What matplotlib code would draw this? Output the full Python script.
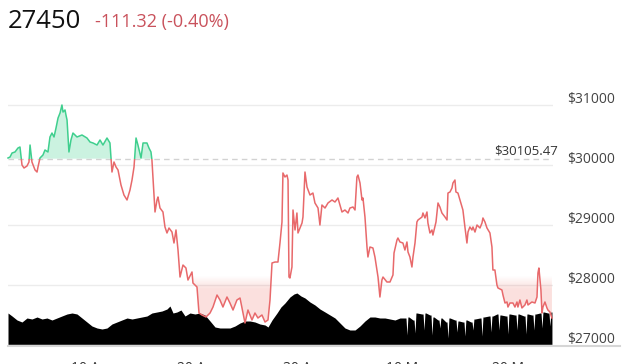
import numpy as np
import pandas as pd
import matplotlib
matplotlib.use("Agg")
import matplotlib.pyplot as plt
import matplotlib.dates as mdates
from matplotlib.transforms import ScaledTranslation
from matplotlib.path import Path
from matplotlib.patches import Rectangle
from matplotlib.lines import Line2D

plt.rcParams['font.family'] = ['Open Sans', 'DejaVu Sans']

# ---------------- data ----------------
start_time = "2023-04-02 02:00"
last_price = "27450"
change_text = "-111.32 (-0.40%)"
base_price = 30105.47

price_days = [
    0.00, 0.19, 0.38, 0.66, 0.94, 1.13, 1.32, 1.51, 1.79, 1.98,
    2.08, 2.26, 2.55, 2.74, 2.83, 3.02, 3.30, 3.49, 3.77, 3.96,
    4.15, 4.34, 4.53, 4.72, 4.91, 5.09, 5.19, 5.38, 5.47, 5.57,
    5.75, 5.94, 6.13, 6.51, 6.98, 7.45, 7.74, 8.02, 8.40, 8.68,
    8.96, 9.34, 9.62, 9.72, 9.81, 10.00, 10.19, 10.38, 10.66, 10.94,
    11.23, 11.51, 11.70, 11.89, 12.08, 12.26, 12.55, 12.74, 13.11, 13.30,
    13.49, 13.58, 13.87, 14.06, 14.15, 14.34, 14.62, 14.81, 15.00, 15.19,
    15.47, 15.66, 15.85, 16.04, 16.23, 16.51, 16.79, 16.98, 17.36, 17.45,
    17.83, 18.02, 18.30, 18.68, 19.06, 19.34, 19.72, 20.00, 20.28, 20.66,
    20.94, 21.23, 21.60, 21.89, 22.17, 22.36, 22.64, 23.02, 23.30, 23.58,
    23.96, 24.25, 24.53, 24.72, 24.91, 25.19, 25.47, 25.66, 25.85, 25.94,
    26.13, 26.32, 26.42, 26.51, 26.60, 26.79, 26.89, 27.08, 27.26, 27.36,
    27.55, 27.74, 27.83, 28.02, 28.21, 28.49, 28.77, 28.96, 29.25, 29.43,
    29.62, 29.91, 30.19, 30.57, 30.85, 31.13, 31.51, 31.79, 32.08, 32.26,
    32.55, 32.74, 32.92, 33.02, 33.21, 33.40, 33.49, 33.68, 33.87, 33.96,
    34.15, 34.43, 34.62, 34.81, 34.91, 35.09, 35.28, 35.38, 35.75, 36.04,
    36.32, 36.42, 36.70, 36.79, 36.98, 37.26, 37.45, 37.64, 37.74, 37.92,
    38.11, 38.21, 38.40, 38.58, 38.68, 39.06, 39.15, 39.34, 39.53, 39.62,
    39.81, 40.00, 40.09, 40.38, 40.57, 40.75, 40.94, 41.23, 41.42, 41.51,
    41.70, 41.89, 41.98, 42.17, 42.26, 42.45, 42.64, 42.92, 43.11, 43.30,
    43.40, 43.58, 43.77, 43.87, 44.06, 44.25, 44.53, 44.72, 44.81, 45.00,
    45.19, 45.47, 45.66, 45.75, 45.94, 46.13, 46.23, 46.60, 46.70, 46.89,
    47.08, 47.17, 47.36, 47.64, 47.83, 48.02, 48.11, 48.30, 48.49, 48.77,
    48.96, 49.06, 49.43, 49.72, 49.91, 50.00, 50.09, 50.28, 50.38, 50.47,
    50.66, 50.85, 50.94, 51.13, 51.32,
]

price = [
    30117, 30133, 30200, 30217, 30283, 30300, 30000, 29950, 29983, 30050,
    30333, 30050, 29917, 29883, 29967, 30117, 30167, 30250, 30217, 30467,
    30533, 30467, 30617, 30783, 30867, 31000, 30883, 30917, 30833, 30750,
    30217, 30417, 30533, 30467, 30500, 30450, 30383, 30367, 30333, 30417,
    30333, 30450, 30367, 30117, 29883, 30050, 29967, 29917, 29667, 29500,
    29417, 29583, 29750, 29967, 30450, 30333, 30117, 30367, 30367, 30283,
    30217, 30083, 29217, 29417, 29467, 29283, 29217, 28967, 28867, 28950,
    28883, 28700, 28917, 28583, 28133, 28333, 28283, 28083, 28217, 28033,
    27967, 27533, 27500, 27467, 27533, 27633, 27833, 27750, 27633, 27800,
    27700, 27583, 27750, 27783, 27533, 27367, 27583, 27417, 27533, 27450,
    27500, 27383, 27417, 27750, 28367, 28383, 28383, 28700, 29050, 29867,
    29800, 29833, 29750, 28133, 28117, 28300, 29250, 28917, 29200, 28867,
    28950, 29033, 29133, 29883, 29633, 29500, 29533, 29367, 29283, 29000,
    29333, 29283, 29367, 29417, 29383, 29450, 29217, 29250, 29200, 29283,
    29300, 29250, 29800, 29833, 29700, 29417, 29450, 29133, 28633, 28467,
    28633, 28617, 28467, 28250, 28133, 27800, 28083, 28133, 28050, 28050,
    28167, 28533, 28750, 28783, 28717, 28700, 28583, 28717, 28550, 28467,
    28300, 28467, 28700, 29050, 29083, 29133, 29200, 29117, 29217, 29033,
    28867, 28917, 28833, 29050, 29367, 29300, 29200, 29133, 29083, 29533,
    29550, 29617, 29700, 29750, 29550, 29533, 29417, 29250, 28967, 28700,
    28883, 28967, 28917, 28967, 28883, 29000, 28950, 29033, 29117, 29050,
    28950, 28867, 28633, 28250, 28250, 28000, 27950, 27917, 27833, 27700,
    27717, 27633, 27700, 27700, 27633, 27717, 27633, 27750, 27617, 27667,
    27750, 27667, 27717, 27700, 27800, 28200, 28283, 27917, 27533, 27633,
    27717, 27617, 27583, 27550, 27450,
]

vol_days = [
    0.00, 0.38, 0.85, 1.32, 1.79, 2.26, 2.74, 3.21, 3.68, 4.15,
    4.62, 5.09, 5.57, 6.04, 6.51, 6.98, 7.45, 7.92, 8.40, 8.87,
    9.34, 9.81, 10.28, 10.75, 11.23, 11.70, 12.17, 12.64, 13.11, 13.58,
    14.06, 14.53, 15.00, 15.28, 15.57, 15.94, 16.32, 16.70, 17.17, 17.64,
    18.11, 18.58, 19.06, 19.53, 20.00, 20.47, 20.94, 21.42, 21.89, 22.36,
    22.83, 23.30, 23.77, 24.25, 24.53, 24.91, 25.38, 25.75, 26.13, 26.60,
    26.98, 27.26, 27.64, 28.02, 28.49, 28.96, 29.43, 29.91, 30.38, 30.85,
    31.32, 31.79, 32.26, 32.74, 33.21, 33.68, 34.15, 34.62, 35.09, 35.57,
    36.04, 36.51, 36.98,
    37.45, 37.55, 37.64, 37.73, 37.83, 38.21, 38.31, 38.40, 38.49, 38.58,
    39.06, 39.16, 39.25, 39.34, 39.43, 39.81, 39.91, 40.00, 40.09, 40.19,
    40.57, 40.66, 40.75, 40.84, 40.94, 41.32, 41.42, 41.51, 41.60, 41.70,
    42.17, 42.27, 42.36, 42.45, 42.55, 42.92, 43.02, 43.11, 43.20, 43.30,
    43.68, 43.78, 43.87, 43.96, 44.06, 44.53, 44.63, 44.72, 44.81, 44.91,
    45.38, 45.48, 45.57, 45.66, 45.75, 46.13, 46.23, 46.32, 46.41, 46.51,
    46.98, 47.08, 47.17, 47.26, 47.36, 47.83, 47.93, 48.02, 48.11, 48.21,
    48.68, 48.78, 48.87, 48.96, 49.06, 49.43, 49.53, 49.62, 49.71, 49.81,
    50.19, 50.29, 50.38, 50.47, 50.57, 50.94, 51.04, 51.13, 51.22, 51.32,
]

volume = [
    16, 14.5, 12.5, 11.5, 13.5, 13, 14, 13, 13.5, 12.5,
    13.5, 14.5, 15.5, 16, 15.5, 13.5, 11.5, 9.5, 8.5, 8,
    8.5, 10.5, 11.5, 12.5, 13.5, 13, 13.5, 14, 14.5, 16,
    16.5, 17, 18, 19.5, 16, 16.5, 17.5, 14.5, 16, 15.5,
    16, 15, 12, 9, 8.5, 8.5, 8.5, 9.5, 11, 12,
    12, 11.5, 10.5, 10, 9, 12.5, 16, 19, 21, 24,
    25.5, 26, 24.5, 23.5, 21.5, 20, 18, 16.5, 15, 13.5,
    11, 8.5, 7.5, 7.5, 9.5, 12, 14, 14, 13.5, 13.5,
    13, 12.5, 13.5,
    13.5, 13.5, 5, 14, 14, 12.5, 12.5, 6, 16, 16,
    15.5, 15.5, 7.5, 16, 16, 15, 15, 5, 14, 14,
    12.5, 12.5, 8.5, 13.5, 13.5, 11.5, 11.5, 3.5, 13.5, 13.5,
    12.5, 12.5, 6.5, 12, 12, 11.5, 11.5, 4.5, 12.5, 12.5,
    11.5, 11.5, 7.5, 13, 13, 13.5, 13.5, 4.5, 14, 14,
    14.5, 14.5, 6.5, 14.5, 14.5, 15.5, 15.5, 7.5, 15, 15,
    14.5, 14.5, 5.5, 15.5, 15.5, 15, 15, 7.5, 15.5, 15.5,
    14.5, 14.5, 5.5, 15.5, 15.5, 15, 15, 7.5, 15.5, 15.5,
    16, 16, 8.5, 16.5, 16.5, 16, 16, 9.5, 16.5, 16.5,
]

y_ticks = [27000, 28000, 29000, 30000, 31000]
y_tick_labels = ["$27000", "$28000", "$29000", "$30000", "$31000"]
x_tick_dates = ["2023-04-10", "2023-04-20", "2023-04-30", "2023-05-10", "2023-05-20"]
x_tick_labels = ["10 Apr", "20 Apr", "30 Apr", "10 May", "20 May"]

# ---------------- style ----------------
GREEN = "#3fcf8e"
RED = "#e8696b"
W, H = 640, 364

fig = plt.figure(figsize=(W / 100, H / 100), dpi=100)
rect = [8 / W, (H - 345) / H, 545 / W, 264 / H]

start_num = mdates.date2num(pd.Timestamp(start_time).to_pydatetime())
xp = start_num + np.array(price_days)
xv = start_num + np.array(vol_days)
p = np.array(price, dtype=float)
v = np.array(volume, dtype=float)
xmin, xmax = start_num, start_num + 51.42

# volume (behind)
axv = fig.add_axes(rect, zorder=1)
axv.fill_between(xv, 0, v, color="black", lw=0)
axv.set_xlim(xmin, xmax)
axv.set_ylim(0, 132)
axv.axis("off")

# price
ax = fig.add_axes(rect, zorder=2)
ax.patch.set_visible(False)

ax.fill_between(xp, p, base_price, where=p >= base_price, interpolate=True,
                color=GREEN, alpha=0.27, lw=0, zorder=1.5)
red_poly = ax.fill_between(xp, p, base_price, where=p <= base_price, interpolate=True,
                           facecolor="none", edgecolor="none", lw=0)

yy = np.linspace(27000, base_price, 300)
alpha = np.clip((28150 - yy) / 220, 0, 1) * 0.17
img = np.zeros((300, 1, 4))
img[..., 0] = 0.91
img[..., 1] = 0.30
img[..., 2] = 0.24
img[:, 0, 3] = alpha
im = ax.imshow(img, origin="lower", extent=[xp[0], xp[-1], 27000, base_price],
               aspect="auto", interpolation="bilinear", zorder=1.5)
paths = red_poly.get_paths()
if paths:
    im.set_clip_path(Path.make_compound_path(*paths), ax.transData)

ax.axhline(base_price, color="#d2d2d2", lw=1, ls=(0, (4, 3)), zorder=1.8)

lg, = ax.plot(xp, p, color=GREEN, lw=1.1, zorder=3)
lr, = ax.plot(xp, p, color=RED, lw=1.1, zorder=3)
up = Rectangle((xmin - 5, base_price), 70, 6000, transform=ax.transData)
dn = Rectangle((xmin - 5, base_price - 6000), 70, 6000, transform=ax.transData)
lg.set_clip_path(up)
lr.set_clip_path(dn)

ax.set_xlim(xmin, xmax)
ax.set_ylim(27000, 31400)

ax.set_yticks(y_ticks, y_tick_labels)
ax.grid(axis="y", color="#ececec", lw=1)
ax.set_axisbelow(True)
ax.yaxis.tick_right()
ax.tick_params(axis="y", length=0, pad=10.5, labelsize=10, labelcolor="#444444")
off = ScaledTranslation(0, 0.08, fig.dpi_scale_trans)
for lab in ax.get_yticklabels():
    lab.set_transform(lab.get_transform() + off)

tick_nums = [mdates.date2num(pd.Timestamp(d).to_pydatetime()) for d in x_tick_dates]
ax.set_xticks(tick_nums, x_tick_labels)
ax.tick_params(axis="x", length=0, pad=11.5, labelsize=10, labelcolor="#333333")

for s in ax.spines.values():
    s.set_visible(False)

# baseline label
ax.text(1.0095, base_price, "$%.2f" % base_price, transform=ax.get_yaxis_transform(),
        ha="right", va="baseline", fontsize=9.5, color="#333333",
        zorder=4).set_transform(ax.get_yaxis_transform() + ScaledTranslation(0, 0.04, fig.dpi_scale_trans))

# bottom axis line
fig.add_artist(Line2D([8 / W, 620 / W], [(H - 345.5) / H] * 2, color="#d6d6d6",
                      lw=1.5, transform=fig.transFigure, zorder=5))

# header
fig.text(8 / W, 1 - 28 / H, last_price, fontsize=18.5, color="#111111", va="baseline")
fig.text(95 / W, 1 - 27 / H, change_text, fontsize=13, color="#c9525c", va="baseline")

fig.savefig("out.png", dpi=100)
